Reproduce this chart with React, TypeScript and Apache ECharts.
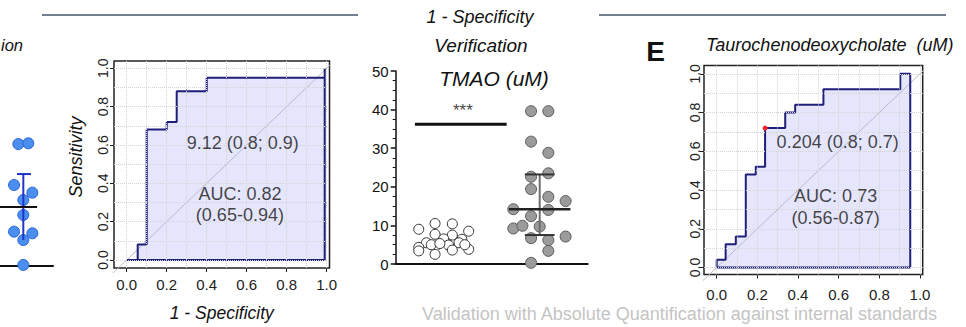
import React, { useEffect, useRef } from 'react';
import * as echarts from 'echarts';

const FONT = '"Liberation Sans", Arial, Helvetica, sans-serif';

// ---- Left (cropped) blue dot plot ----
const BLUE_VALUES = [8.13, 8.18, 5.4, 4.89, 4.4, 3.4, 2.29, 2.18, 1.73, 0.07];
const BLUE_JITTER = [-0.094, 0.094, -0.175, 0.17, 0, 0, -0.175, 0.17, 0, 0];
const BLUE_MEAN = 3.93;
const BLUE_SD = 2.2;

// ---- ROC 1 ----
const ROC1_FPR = [0, 0.055, 0.055, 0.1, 0.1, 0.2, 0.2, 0.25, 0.25, 0.4, 0.4, 0.99, 0.99];
const ROC1_TPR = [0, 0, 0.08, 0.08, 0.68, 0.68, 0.72, 0.72, 0.88, 0.88, 0.95, 0.95, 1.0];
const ROC1_TEXTS = ['9.12 (0.8; 0.9)', 'AUC: 0.82', '(0.65-0.94)'];

// ---- TMAO dot plot ----
const TMAO_CONTROL = [9.0, 10.5, 10.4, 8.5, 7.7, 7.5, 5.5, 6.5, 6.4, 4.3, 4.5, 4.9, 3.6, 3.8, 3.4, 2.5, 5.5, 5.0, 5.0, 5.3];
const TMAO_CONTROL_JITTER = [-0.26, -0.09, 0.09, 0.26, -0.09, 0.09, -0.18, 0, 0.19, -0.26, -0.09, 0.05, 0.09, 0.26, -0.26, -0.09, 0.16, -0.13, 0.22, -0.04];
const TMAO_CASE = [39.6, 39.6, 31.7, 28.8, 22.6, 23.5, 19.4, 17.4, 16.3, 14.2, 14.0, 12.4, 9.2, 9.9, 9.7, 6.7, 6.2, 7.1, 3.4, 0.3];
const TMAO_CASE_JITTER = [-0.09, 0.09, -0.09, 0.09, -0.09, 0.09, -0.09, 0.09, 0.27, -0.275, 0.09, -0.09, -0.275, -0.18, 0, -0.09, 0.09, 0.27, 0.09, -0.09];
const TMAO_CASE_MEDIAN = 14.2;
const TMAO_CASE_Q1 = 7.5;
const TMAO_CASE_Q3 = 23.2;
const TMAO_SIG_LEVEL = 36.2;
const TMAO_SIG_TEXT = '***';

// ---- ROC 2 ----
const ROC2_FPR = [0, 0, 0.044, 0.044, 0.094, 0.094, 0.143, 0.143, 0.192, 0.192, 0.238, 0.238, 0.337, 0.337, 0.386, 0.386, 0.525, 0.525, 0.903, 0.903, 0.952];
const ROC2_TPR = [0, 0.04, 0.04, 0.12, 0.12, 0.16, 0.16, 0.48, 0.48, 0.52, 0.52, 0.72, 0.72, 0.8, 0.8, 0.84, 0.84, 0.92, 0.92, 1.0, 1.0];
const ROC2_CUTOFF = [0.238, 0.72];
const ROC2_TEXTS = ['0.204 (0.8; 0.7)', 'AUC: 0.73', '(0.56-0.87)'];

const ROC_TICKS = [0, 0.2, 0.4, 0.6, 0.8, 1.0];
const ROC_GRID = [0, 0.1, 0.2, 0.3, 0.4, 0.5, 0.6, 0.7, 0.8, 0.9, 1.0];

function rocSeries(ai: number, fpr: number[], tpr: number[], texts: string[], textPos: number[][]) {
  const pts = fpr.map((x, i) => [x, tpr[i]]);
  const closed = pts.concat([[fpr[fpr.length - 1], 0], [fpr[0], 0]]);
  return [
    {
      type: 'line', xAxisIndex: ai, yAxisIndex: ai, silent: true, clip: false, z: 1,
      data: [[-0.08, -0.08], [1.05, 1.05]], symbol: 'none',
      lineStyle: { color: '#bdbdbd', width: 1 },
      markLine: {
        silent: true, symbol: ['none', 'none'], label: { show: false },
        lineStyle: { color: '#d4d4d4', type: 'dotted', width: 1 },
        data: [...ROC_GRID.map((v) => ({ xAxis: v })), ...ROC_GRID.map((v) => ({ yAxis: v }))],
      },
    },
    {
      type: 'line', xAxisIndex: ai, yAxisIndex: ai, silent: true, z: 2,
      data: pts, symbol: 'none', lineStyle: { width: 0, opacity: 0 },
      areaStyle: { color: 'rgba(172,172,245,0.45)', origin: 'auto' },
    },
    {
      type: 'line', xAxisIndex: ai, yAxisIndex: ai, silent: true, z: 3,
      data: closed, symbol: 'none', lineStyle: { color: '#1f1f7a', width: 2 },
    },
    {
      type: 'scatter', xAxisIndex: ai, yAxisIndex: ai, silent: true, z: 5,
      symbolSize: 0,
      data: texts.map((t, i) => ({ value: textPos[i], name: t })),
      label: {
        show: true, position: 'inside', formatter: (p: any) => p.name,
        color: '#151515', fontSize: 18, fontFamily: FONT,
      },
    },
  ];
}

function rocAxes(gi: number, xmin: number, xmax: number, ymin: number, ymax: number, xMargin: number, yMargin: number, xName: string) {
  const x: any = {
    type: 'value', gridIndex: gi, min: xmin, max: xmax,
    axisLine: { show: false, onZero: false },
    axisTick: { show: true, customValues: ROC_TICKS, length: 4, lineStyle: { color: '#222' } },
    axisLabel: { customValues: ROC_TICKS, formatter: (v: number) => v.toFixed(1), fontSize: 15, color: '#222', fontFamily: FONT, margin: xMargin },
    splitLine: { show: false },
  };
  if (xName) {
    x.name = xName;
    x.nameLocation = 'middle';
    x.nameGap = 36;
    x.nameTextStyle = { fontSize: 17.5, fontStyle: 'italic', color: '#111', fontFamily: FONT };
  }
  const y: any = {
    type: 'value', gridIndex: gi, min: ymin, max: ymax,
    axisLine: { show: false, onZero: false },
    axisTick: { show: true, customValues: ROC_TICKS, length: 4, lineStyle: { color: '#222' } },
    axisLabel: { customValues: ROC_TICKS, formatter: (v: number) => v.toFixed(1), rotate: 90, fontSize: 14, color: '#222', fontFamily: FONT, margin: yMargin },
    splitLine: { show: false },
  };
  return { x, y };
}

function hline(xi: number, x0: number, x1: number, y: number, color: string, width: number, z = 6) {
  return {
    type: 'line', xAxisIndex: xi, yAxisIndex: xi, silent: true, z, symbol: 'none',
    data: [[x0, y], [x1, y]], lineStyle: { color, width },
  };
}
function vline(xi: number, x: number, y0: number, y1: number, color: string, width: number, z = 6) {
  return {
    type: 'line', xAxisIndex: xi, yAxisIndex: xi, silent: true, z, symbol: 'none',
    data: [[x, y0], [x, y1]], lineStyle: { color, width },
  };
}

export default function App() {
  const ref = useRef<HTMLDivElement>(null);
  useEffect(() => {
    document.body.style.margin = '0';
    if (!ref.current) return;
    const chart = echarts.init(ref.current, undefined, { renderer: 'svg' });
    const r1 = rocAxes(1, -0.0635, 1.014, -0.042, 1.038, 9, 4, '1 - Specificity');
    const r2 = rocAxes(3, -0.0625, 1.0133, -0.0361, 1.043, 12, 2, '');
    const blueC = 0.44;
    const option: any = {
      animation: false,
      textStyle: { fontFamily: FONT },
      grid: [
        { left: 0, top: 56, width: 53, height: 210 },
        { left: 114, top: 61, width: 215.5, height: 211.3, show: true, borderColor: '#222', borderWidth: 1.5, backgroundColor: 'transparent' },
        { left: 395.7, top: 71, width: 192, height: 193 },
        { left: 704, top: 65.5, width: 218.7, height: 209, show: true, borderColor: '#222', borderWidth: 1.5, backgroundColor: 'transparent' },
      ],
      xAxis: [
        { type: 'value', gridIndex: 0, min: 0, max: 1, axisLine: { show: true, onZero: false, lineStyle: { color: '#111', width: 2 } }, axisTick: { show: false }, axisLabel: { show: false }, splitLine: { show: false } },
        r1.x,
        { type: 'value', gridIndex: 2, min: 0, max: 2, axisLine: { show: true, onZero: false, lineStyle: { color: '#111', width: 2 } }, axisTick: { show: false }, axisLabel: { show: false }, splitLine: { show: false } },
        r2.x,
      ],
      yAxis: [
        { type: 'value', gridIndex: 0, min: 0, max: 14, show: false },
        r1.y,
        {
          type: 'value', gridIndex: 2, min: 0, max: 50, interval: 10,
          axisLine: { show: true, onZero: false, lineStyle: { color: '#111', width: 1.5 } },
          axisTick: { show: true, length: 5, lineStyle: { color: '#111', width: 1.5 } },
          minorTick: { show: true, splitNumber: 4, length: 3, lineStyle: { color: '#111', width: 1 } },
          axisLabel: { fontSize: 15, color: '#111', fontFamily: FONT, margin: 7 },
          splitLine: { show: false },
        },
        r2.y,
      ],
      series: [
        // blue panel
        {
          type: 'scatter', xAxisIndex: 0, yAxisIndex: 0, silent: true, z: 4, symbolSize: 11,
          data: BLUE_VALUES.map((v, i) => [blueC + BLUE_JITTER[i], v]),
          itemStyle: { color: '#4a8ef0', borderColor: '#2b66d6', borderWidth: 1, opacity: 1 },
        },
        vline(0, blueC, BLUE_MEAN - BLUE_SD, BLUE_MEAN + BLUE_SD, '#2233cc', 2),
        hline(0, 0.32, 0.585, BLUE_MEAN + BLUE_SD, '#2233cc', 2),
        hline(0, 0, 0.7, BLUE_MEAN, '#111', 2),
        // ROC 1
        ...rocSeries(1, ROC1_FPR, ROC1_TPR, ROC1_TEXTS, [[0.58, 0.61], [0.566, 0.344], [0.566, 0.235]]),
        // TMAO
        {
          type: 'scatter', xAxisIndex: 2, yAxisIndex: 2, silent: true, z: 4, symbolSize: 10,
          data: TMAO_CONTROL.map((v, i) => [0.5 + TMAO_CONTROL_JITTER[i], v]),
          itemStyle: { color: '#ffffff', borderColor: '#333', borderWidth: 1, opacity: 1 },
        },
        {
          type: 'scatter', xAxisIndex: 2, yAxisIndex: 2, silent: true, z: 4, symbolSize: 11,
          data: TMAO_CASE.map((v, i) => [1.5 + TMAO_CASE_JITTER[i], v]),
          itemStyle: { color: '#9b9b9b', borderColor: '#5c5c5c', borderWidth: 1, opacity: 1 },
        },
        vline(2, 1.5, TMAO_CASE_Q1, TMAO_CASE_Q3, '#6e6e6e', 2),
        hline(2, 1.345, 1.655, TMAO_CASE_Q3, '#333', 2),
        hline(2, 1.345, 1.655, TMAO_CASE_Q1, '#333', 2),
        hline(2, 1.18, 1.82, TMAO_CASE_MEDIAN, '#222', 2.5),
        hline(2, 0.2, 1.156, TMAO_SIG_LEVEL, '#111', 3),
        {
          type: 'scatter', xAxisIndex: 2, yAxisIndex: 2, silent: true, z: 5, symbolSize: 0,
          data: [{ value: [0.7, 39.8], name: TMAO_SIG_TEXT }],
          label: { show: true, position: 'inside', formatter: (p: any) => p.name, color: '#111', fontSize: 17, fontFamily: FONT },
        },
        // ROC 2
        ...rocSeries(3, ROC2_FPR, ROC2_TPR, ROC2_TEXTS, [[0.595, 0.65], [0.585, 0.367], [0.585, 0.255]]),
        {
          type: 'scatter', xAxisIndex: 3, yAxisIndex: 3, silent: true, z: 6, symbolSize: 5,
          data: [ROC2_CUTOFF], itemStyle: { color: '#ff2020', opacity: 1 },
        },
      ],
      graphic: [
        { type: 'line', silent: true, shape: { x1: 42, y1: 15, x2: 358, y2: 15 }, style: { stroke: '#44546a', lineWidth: 1.5 } },
        { type: 'line', silent: true, shape: { x1: 599, y1: 15, x2: 946, y2: 15 }, style: { stroke: '#44546a', lineWidth: 1.5 } },
        { type: 'text', x: 480, y: 17, style: { text: '1 - Specificity', fontSize: 18, fontStyle: 'italic', fontFamily: FONT, fill: '#111', align: 'center', verticalAlign: 'middle', textAlign: 'center', textVerticalAlign: 'middle' } },
        { type: 'text', x: 481, y: 45, style: { text: 'Verification', fontSize: 19, fontStyle: 'italic', fontFamily: FONT, fill: '#111', align: 'center', verticalAlign: 'middle', textAlign: 'center', textVerticalAlign: 'middle' } },
        { type: 'text', x: 1, y: 45, style: { text: 'ion', fontSize: 16.5, fontStyle: 'italic', fontFamily: FONT, fill: '#111', align: 'left', verticalAlign: 'middle', textAlign: 'left', textVerticalAlign: 'middle' } },
        { type: 'text', x: 494, y: 78, style: { text: 'TMAO (uM)', fontSize: 21, fontStyle: 'italic', fontFamily: FONT, fill: '#111', align: 'center', verticalAlign: 'middle', textAlign: 'center', textVerticalAlign: 'middle' } },
        { type: 'text', x: 655.5, y: 51, style: { text: 'E', fontSize: 28, fontWeight: 'bold', fontFamily: FONT, fill: '#111', align: 'center', verticalAlign: 'middle', textAlign: 'center', textVerticalAlign: 'middle' } },
        { type: 'text', x: 706, y: 45, style: { text: 'Taurochenodeoxycholate  (uM)', fontSize: 18, fontStyle: 'italic', fontFamily: FONT, fill: '#111', align: 'left', verticalAlign: 'middle', textAlign: 'left', textVerticalAlign: 'middle' } },
        { type: 'text', x: 76, y: 157, rotation: Math.PI / 2, style: { text: 'Sensitivity', fontSize: 18, fontStyle: 'italic', fontFamily: FONT, fill: '#111', align: 'center', verticalAlign: 'middle', textAlign: 'center', textVerticalAlign: 'middle' } },
        { type: 'text', x: 679.5, y: 313.5, style: { text: 'Validation with Absolute Quantification against internal standards', fontSize: 18, fontFamily: FONT, fill: '#c4c4c4', align: 'center', verticalAlign: 'middle', textAlign: 'center', textVerticalAlign: 'middle' } },
      ],
    };
    chart.setOption(option);
    return () => chart.dispose();
  }, []);
  return <div ref={ref} style={{ width: 966, height: 327 }} />;
}
